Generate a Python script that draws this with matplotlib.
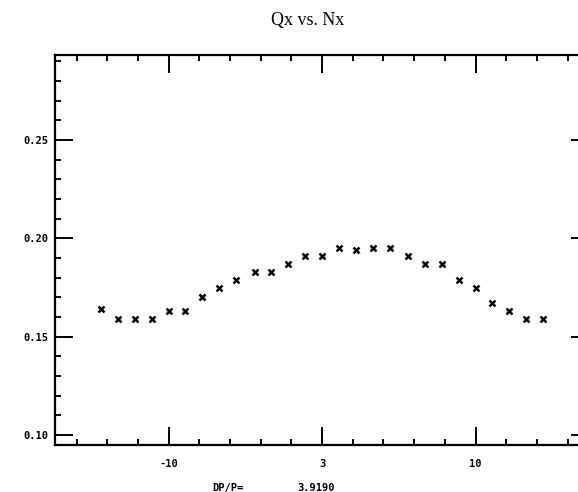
"""Qx vs. Nx scan plot, redrawn from a scanned printout."""

import matplotlib

matplotlib.use("Agg")
import matplotlib.pyplot as plt
from matplotlib.ticker import FixedLocator, MultipleLocator

# values
NX = [-14.4, -13.3, -12.2, -11.1, -10.0, -8.9, -7.8, -6.7, -5.6,
      -4.4, -3.3, -2.2, -1.1, 0.0, 1.1, 2.2, 3.3, 4.4, 5.6,
      6.7, 7.8, 8.9, 10.0, 11.1, 12.2, 13.3, 14.4]
QX = [0.164, 0.159, 0.159, 0.159, 0.163, 0.163, 0.170, 0.175, 0.179,
      0.183, 0.183, 0.187, 0.191, 0.191, 0.195, 0.194, 0.195, 0.195, 0.191,
      0.187, 0.187, 0.179, 0.175, 0.167, 0.163, 0.159, 0.159]

X_TICKS = [-10, 0, 10]
X_TICK_LABELS = ["-10", "3", "10"]
Y_TICKS = [0.10, 0.15, 0.20, 0.25]
Y_TICK_LABELS = ["0.10", "0.15", "0.20", "0.25"]

TITLE = "Qx vs. Nx"
DPP_LABEL = "DP/P="
DPP_VALUE = "3.9190"

MONO = "DejaVu Sans Mono"


def main() -> None:
    fig = plt.figure(figsize=(5.78, 4.92), dpi=100)
    ax = fig.add_axes([0.0952, 0.0955, 0.924, 0.7925])

    ax.plot(NX, QX, linestyle="none", marker="x", markersize=4.8,
            markeredgewidth=1.8, color="black")

    ax.set_xlim(-17.4, 17.4)
    ax.set_ylim(0.0949, 0.2932)

    ax.xaxis.set_major_locator(FixedLocator(X_TICKS))
    ax.set_xticklabels(X_TICK_LABELS, family=MONO, fontsize=7.5, fontweight="bold")
    ax.xaxis.set_minor_locator(MultipleLocator(2))
    ax.yaxis.set_major_locator(FixedLocator(Y_TICKS))
    ax.set_yticklabels(Y_TICK_LABELS, family=MONO, fontsize=7.5, fontweight="bold")
    ax.yaxis.set_minor_locator(MultipleLocator(0.01))

    ax.tick_params(which="both", direction="in", top=True, right=True,
                   color="black", width=1.4)
    ax.tick_params(which="major", length=13)
    ax.tick_params(which="minor", length=4.5)
    ax.tick_params(axis="x", which="major", pad=10)
    ax.tick_params(axis="y", which="major", pad=5)

    for spine in ax.spines.values():
        spine.set_linewidth(1.6)

    fig.text(0.532, 1 - 20 / 492, TITLE, family="Liberation Serif",
             fontsize=13, ha="center", va="center")
    fig.text(228 / 578, 1 - 488 / 492, DPP_LABEL, family=MONO, fontsize=7.5,
             fontweight="bold", ha="center", va="center")
    fig.text(316 / 578, 1 - 488 / 492, DPP_VALUE, family=MONO, fontsize=7.5,
             fontweight="bold", ha="center", va="center")

    fig.savefig("out.png", dpi=100)
    plt.close(fig)


if __name__ == "__main__":
    main()
